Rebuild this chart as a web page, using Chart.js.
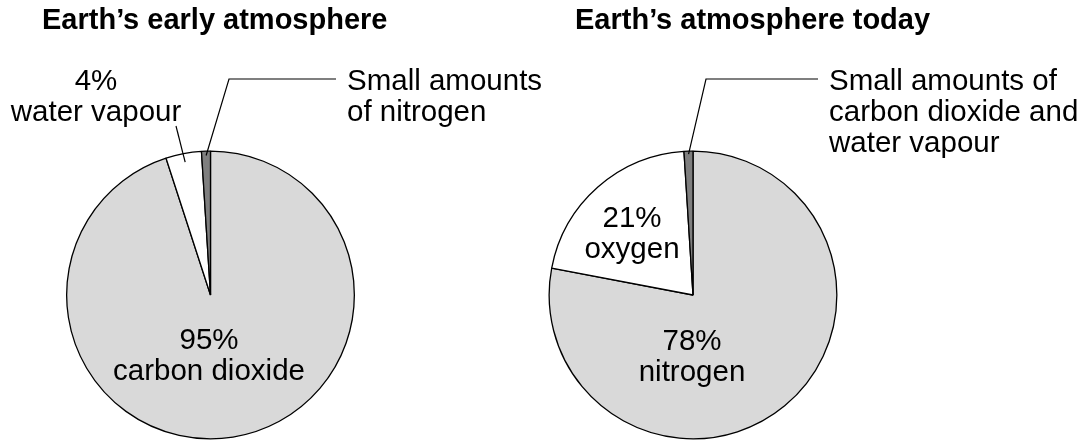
<!DOCTYPE html>
<html>
<head>
<meta charset="UTF-8">
<title>Earth's atmosphere</title>
<script src="https://cdn.jsdelivr.net/npm/chart.js@4.4.0/dist/chart.umd.min.js"></script>
<style>
    body { margin: 0; background: #fff; }
    .wrap { position: absolute; left: 0; top: 0; width: 1087px; height: 441px; }
</style>
</head>
<body>
<div class="wrap"><canvas id="early"></canvas></div>
<div class="wrap"><canvas id="today"></canvas></div>
<script>
// data (percent)
var earlyGases = ['carbon dioxide', 'water vapour', 'nitrogen'];
var earlyPercent = [95, 4, 1];
var todayGases = ['nitrogen', 'oxygen', 'carbon dioxide and water vapour'];
var todayPercent = [78, 21, 1];
var sliceColours = ['#d9d9d9', '#ffffff', '#7f7f7f'];

var FONT = '"Liberation Sans", Arial, sans-serif';
var LINE = 31;

// draws title, labels and leader lines for one pie
var notesPlugin = {
    id: 'notes',
    afterDraw: function (chart) {
        var o = chart.options.plugins.notes;
        var ctx = chart.ctx;
        var arcs = chart.getDatasetMeta(0).data;
        ctx.save();
        ctx.fillStyle = '#000';
        ctx.textBaseline = 'alphabetic';
        ctx.font = 'bold 29px ' + FONT;
        ctx.textAlign = 'left';
        ctx.fillText(o.title, o.titleX, 29);

        ctx.font = '29.5px ' + FONT;
        o.texts.forEach(function (t) {
            ctx.textAlign = t.align;
            t.lines.forEach(function (s, k) {
                ctx.fillText(s, t.x, t.y + k * LINE);
            });
        });

        ctx.strokeStyle = '#000';
        ctx.lineWidth = 1.2;
        o.leaders.forEach(function (l) {
            var a = arcs[l.index];
            var mid = (a.startAngle + a.endAngle) / 2;
            var r = a.outerRadius * l.r;
            ctx.beginPath();
            ctx.moveTo(a.x + Math.cos(mid) * r, a.y + Math.sin(mid) * r);
            l.points.forEach(function (p) { ctx.lineTo(p[0], p[1]); });
            ctx.stroke();
        });
        ctx.restore();
    }
};

function makePie(id, gases, values, pad, notes) {
    return new Chart(document.getElementById(id), {
        type: 'pie',
        data: {
            labels: gases,
            datasets: [{
                data: values,
                backgroundColor: sliceColours,
                borderColor: '#000',
                borderWidth: 1.3
            }]
        },
        options: {
            responsive: true,
            maintainAspectRatio: false,
            animation: false,
            events: [],
            layout: { padding: pad },
            plugins: {
                legend: { display: false },
                tooltip: { enabled: false },
                notes: notes
            }
        },
        plugins: [notesPlugin]
    });
}

makePie('early', earlyGases, earlyPercent,
    { left: 66, right: 732, top: 150.5, bottom: 1.5 },
    {
        title: 'Earth\u2019s early atmosphere',
        titleX: 42,
        texts: [
            { lines: [earlyPercent[1] + '%', earlyGases[1]], x: 96, y: 90, align: 'center' },
            { lines: ['Small amounts', 'of ' + earlyGases[2]], x: 347, y: 90, align: 'left' },
            { lines: [earlyPercent[0] + '%', earlyGases[0]], x: 209, y: 349, align: 'center' }
        ],
        leaders: [
            { index: 2, r: 0.97, points: [[229, 79], [336, 79]] },
            { index: 1, r: 0.94, points: [[176, 126]] }
        ]
    });

makePie('today', todayGases, todayPercent,
    { left: 548.5, right: 249.5, top: 150.5, bottom: 1.5 },
    {
        title: 'Earth\u2019s atmosphere today',
        titleX: 575,
        texts: [
            { lines: [todayPercent[1] + '%', todayGases[1]], x: 632, y: 227, align: 'center' },
            { lines: ['Small amounts of', 'carbon dioxide and', 'water vapour'], x: 829, y: 90, align: 'left' },
            { lines: [todayPercent[0] + '%', todayGases[0]], x: 692, y: 350, align: 'center' }
        ],
        leaders: [
            { index: 2, r: 0.98, points: [[706, 79], [818, 79]] }
        ]
    });
</script>
</body>
</html>
